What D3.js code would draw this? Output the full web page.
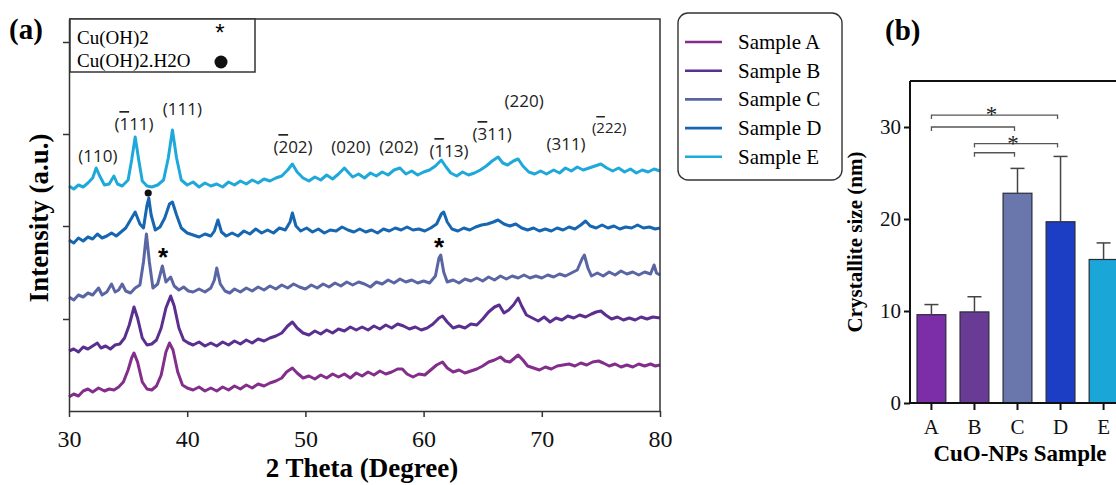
<!DOCTYPE html>
<html>
<head>
<meta charset="utf-8">
<script src="https://cdnjs.cloudflare.com/ajax/libs/d3/7.8.5/d3.min.js"></script>
<style>
body { margin: 0; background: #fff; }
svg { display: block; font-family: "Liberation Serif", "Times New Roman", serif; }
.hkl { font-family: "Open Sans", "Liberation Sans", sans-serif; font-size: 17px; fill: #222; }
.ov { text-decoration: overline; }
</style>
</head>
<body>
<script>
// ---- panel (a): XRD patterns, [2theta, intensity a.u.] as stacked in the figure
const sampleA = [[30,14],[30.4,17],[30.8,15],[31.2,20],[31.6,22],[32,19],[32.5,23],[33,20],[33.4,22],[33.8,21],[34.2,24],[34.6,29],[35,41],[35.3,53],[35.5,58],[35.8,49],[36.2,29],[36.6,22],[37,21],[37.4,25],[37.8,36],[38.2,59],[38.5,68],[38.8,61],[39.2,39],[39.6,26],[40,23],[40.5,21],[41,24],[41.5,20],[42,23],[42.5,20],[43,24],[43.5,21],[44,25],[44.5,22],[45,26],[45.5,23],[46,27],[46.5,25],[47,28],[47.5,30],[48,33],[48.4,39],[48.9,43],[49.3,38],[49.8,33],[50.3,35],[50.8,32],[51.3,36],[51.8,33],[52.3,37],[52.8,34],[53.3,37],[53.8,33],[54.3,38],[54.8,35],[55.3,39],[55.8,36],[56.3,40],[56.8,37],[57.3,39],[57.8,42],[58.2,42],[58.6,37],[59.1,34],[59.6,37],[60.1,36],[60.6,41],[61.1,46],[61.6,49],[62,43],[62.5,39],[63,41],[63.5,38],[64,40],[64.5,42],[65,45],[65.5,49],[66,51],[66.5,54],[66.9,50],[67.3,49],[67.7,53],[68,56],[68.4,51],[68.8,45],[69.3,43],[69.8,41],[70.3,44],[70.8,42],[71.3,45],[71.8,46],[72.3,47],[72.8,45],[73.3,48],[73.8,46],[74.3,49],[74.8,50],[75.2,48],[75.7,45],[76.2,47],[76.7,44],[77.2,46],[77.7,44],[78.2,47],[78.7,45],[79.2,47],[79.6,45],[80,46]];
const sampleB = [[30,60],[30.4,62],[30.8,59],[31.2,64],[31.6,62],[32,65],[32.4,68],[32.7,63],[33.1,65],[33.5,62],[33.9,66],[34.3,67],[34.7,73],[35.1,86],[35.5,104],[35.8,93],[36.2,73],[36.6,66],[37,67],[37.4,71],[37.8,83],[38.2,103],[38.6,115],[38.9,105],[39.3,83],[39.7,71],[40.1,68],[40.5,66],[41,69],[41.5,65],[42,68],[42.5,65],[43,69],[43.5,66],[44,70],[44.5,67],[45,71],[45.5,68],[46,72],[46.5,70],[47,73],[47.5,75],[48,78],[48.5,85],[48.9,89],[49.3,83],[49.8,78],[50.3,76],[50.8,80],[51.3,77],[51.8,81],[52.3,78],[52.8,82],[53.3,80],[53.8,84],[54.3,81],[54.8,84],[55.3,81],[55.8,85],[56.3,82],[56.8,86],[57.3,83],[57.8,87],[58.3,85],[58.8,82],[59.3,84],[59.8,81],[60.3,83],[60.8,87],[61.3,93],[61.6,95],[62,89],[62.5,83],[63,85],[63.5,83],[64,87],[64.5,86],[65,92],[65.5,99],[66,104],[66.4,106],[66.8,98],[67.2,101],[67.6,106],[68,113],[68.3,105],[68.7,96],[69.2,93],[69.7,90],[70.2,94],[70.7,89],[71.2,93],[71.7,91],[72.2,95],[72.7,93],[73.2,96],[73.7,94],[74.2,97],[74.6,99],[75,100],[75.4,96],[75.9,92],[76.4,94],[76.9,91],[77.4,93],[77.9,91],[78.4,94],[78.9,92],[79.4,94],[80,93]];
const sampleC = [[30,114],[30.4,111],[30.8,116],[31.2,114],[31.6,118],[32,116],[32.5,123],[32.8,116],[33.2,119],[33.6,127],[33.9,119],[34.2,121],[34.5,127],[34.8,120],[35.2,118],[35.6,123],[36,126],[36.3,149],[36.55,177],[36.8,149],[37.1,123],[37.5,127],[37.9,145],[38.2,129],[38.6,134],[38.9,125],[39.3,121],[39.7,124],[40.1,120],[40.5,119],[41,122],[41.5,119],[42,123],[42.3,131],[42.5,143],[42.8,127],[43.2,120],[43.6,118],[44,122],[44.5,119],[45,123],[45.5,120],[46,124],[46.5,121],[47,125],[47.5,122],[48,126],[48.5,123],[49,127],[49.5,124],[50,122],[50.5,126],[51,123],[51.5,127],[52,124],[52.5,128],[53,125],[53.5,129],[54,126],[54.5,129],[55,127],[55.5,124],[56,129],[56.5,127],[57,131],[57.5,128],[58,132],[58.5,129],[59,131],[59.5,128],[60,130],[60.5,128],[61,135],[61.3,153],[61.45,156],[61.7,139],[62,129],[62.5,131],[63,128],[63.5,132],[64,130],[64.5,133],[65,130],[65.5,134],[66,131],[66.5,135],[67,132],[67.5,135],[68,133],[68.5,136],[69,133],[69.5,135],[70,133],[70.5,136],[71,134],[71.5,137],[72,135],[72.5,138],[73,141],[73.4,152],[73.6,156],[73.9,143],[74.2,135],[74.7,138],[75.2,135],[75.7,139],[76.2,136],[76.7,140],[77.2,137],[77.7,139],[78.2,136],[78.7,139],[79.2,137],[79.5,146],[79.7,138],[80,136]];
const sampleD = [[30,171],[30.4,168],[30.8,173],[31.2,170],[31.6,174],[32,172],[32.4,177],[32.8,173],[33.2,175],[33.6,178],[34,175],[34.4,179],[34.8,183],[35.2,191],[35.6,199],[36,187],[36.3,183],[36.6,206],[36.75,213],[36.95,196],[37.3,181],[37.7,184],[38.1,193],[38.5,207],[38.75,209],[39.1,196],[39.5,183],[40,178],[40.5,176],[41,174],[41.5,177],[42,175],[42.3,180],[42.6,191],[42.9,179],[43.3,175],[43.8,178],[44.3,175],[44.8,180],[45.3,177],[45.8,182],[46.3,178],[46.8,181],[47.3,178],[47.8,183],[48.3,181],[48.7,189],[48.9,198],[49.2,185],[49.6,180],[50.1,183],[50.6,179],[51.1,182],[51.6,178],[52.1,181],[52.6,180],[53.1,184],[53.6,181],[54.1,179],[54.6,182],[55.1,179],[55.6,181],[56.1,178],[56.6,182],[57.1,180],[57.6,183],[58.1,181],[58.6,184],[59.1,181],[59.6,182],[60.1,180],[60.6,183],[61.1,187],[61.5,197],[61.7,199],[62,189],[62.4,182],[62.9,180],[63.4,183],[63.9,181],[64.4,184],[64.9,186],[65.4,187],[65.9,189],[66.3,191],[66.8,187],[67.3,185],[67.8,187],[68.3,183],[68.8,181],[69.3,183],[69.8,180],[70.3,182],[70.8,180],[71.3,183],[71.8,181],[72.3,184],[72.8,182],[73.3,186],[73.7,190],[74.1,185],[74.6,183],[75.1,186],[75.6,183],[76.1,185],[76.6,182],[77.1,184],[77.6,183],[78.1,186],[78.6,183],[79.1,184],[79.6,182],[80,183]];
const sampleE = [[30,225],[30.4,222],[30.8,226],[31.2,224],[31.6,228],[32,233],[32.3,243],[32.6,235],[33,226],[33.4,227],[33.8,235],[34.1,227],[34.5,225],[35,231],[35.3,251],[35.6,274],[35.9,251],[36.2,230],[36.6,225],[37,224],[37.5,226],[38,231],[38.4,253],[38.75,281],[39.1,253],[39.5,231],[40,226],[40.5,229],[41,224],[41.5,228],[42,225],[42.5,227],[43,224],[43.5,229],[44,226],[44.5,230],[45,227],[45.5,231],[46,228],[46.5,232],[47,230],[47.5,233],[48,235],[48.5,241],[48.9,247],[49.3,239],[49.8,233],[50.3,230],[50.8,234],[51.3,231],[51.8,236],[52.3,232],[52.8,237],[53.3,243],[53.6,239],[54,234],[54.5,237],[55,233],[55.5,238],[56,235],[56.5,239],[57,236],[57.5,241],[58,243],[58.5,237],[59,240],[59.5,236],[60,239],[60.5,241],[61,245],[61.5,251],[61.9,244],[62.3,238],[62.8,235],[63.3,239],[63.8,236],[64.3,238],[64.8,241],[65.3,245],[65.8,250],[66.3,254],[66.7,248],[67.1,246],[67.6,250],[68,252],[68.4,245],[68.9,239],[69.4,237],[69.9,240],[70.4,237],[71,241],[71.5,238],[72,243],[72.5,240],[73,244],[73.5,241],[74,243],[74.5,245],[75,247],[75.5,243],[76,240],[76.5,243],[77,239],[77.5,242],[78,238],[78.5,241],[79,239],[79.5,242],[80,240]];

const sampleNames = ["Sample A", "Sample B", "Sample C", "Sample D", "Sample E"];
const twoThetaTicks = [30, 40, 50, 60, 70, 80];
const intensityTicks = [92, 185, 277, 369];

// reflection labels: text parts (1 = overlined digit), 2theta, label level
const peakLabels = [
  {parts: [["(110)", 0]], tt: 32.45, level: 249},
  {parts: [["(", 0], ["1", 1], ["11)", 0]], tt: 35.5, level: 281},
  {parts: [["(111)", 0]], tt: 39.6, level: 296},
  {parts: [["(", 0], ["2", 1], ["02)", 0]], tt: 48.95, level: 258},
  {parts: [["(020)", 0]], tt: 53.85, level: 258},
  {parts: [["(202)", 0]], tt: 57.9, level: 258},
  {parts: [["(", 0], ["1", 1], ["13)", 0]], tt: 62.15, level: 254},
  {parts: [["(", 0], ["3", 1], ["11)", 0]], tt: 65.8, level: 271},
  {parts: [["(220)", 0]], tt: 68.5, level: 304},
  {parts: [["(311)", 0]], tt: 72.05, level: 261},
  {parts: [["(", 0], ["2", 1], ["22)", 0]], tt: 75.7, level: 278, small: true}
];
// secondary phase marks: star = Cu(OH)2, dot = Cu(OH)2.H2O
const phaseMarks = [
  {kind: "dot", tt: 36.7, level: 218},
  {kind: "star", tt: 37.95, level: 157},
  {kind: "star", tt: 61.3, level: 167}
];

// ---- panel (b): crystallite size
const sizeCats = ["A", "B", "C", "D", "E"];
const sizeMeans = [9.6, 9.9, 22.8, 19.7, 15.6];
const sizeErr = [1.1, 1.65, 2.7, 7.1, 1.8];
const sizeTicks = [0, 10, 20, 30];
const sigBrackets = [
  {from: "A", to: "D", level: 31.3, star: true},
  {from: "A", to: "C", level: 30.0, star: false},
  {from: "B", to: "D", level: 28.2, star: true},
  {from: "B", to: "C", level: 27.2, star: false}
];

const lineColors = ["#832e8a", "#5a2f90", "#5a66a4", "#1766b1", "#1fa9da"];
const barColors = ["#7b2ea8", "#6a3b94", "#6a77ad", "#1b3ec4", "#1aa6d7"];

const w = 1116, h = 485;
const svg = d3.select("body").append("svg")
  .attr("width", w)
  .attr("height", h);

// ================= panel (a)
const x_scale = d3.scaleLinear().domain([30, 80]).range([69, 660]);
const y_scale = d3.scaleLinear().domain([0, 392]).range([411, 19]);

const line = d3.line()
  .x(d => x_scale(d[0]))
  .y(d => y_scale(d[1]));

const series = [sampleA, sampleB, sampleC, sampleD, sampleE];
svg.append("g")
  .selectAll("path")
  .data(series)
  .enter()
  .append("path")
  .attr("d", line)
  .attr("fill", "none")
  .attr("stroke", (d, i) => lineColors[i])
  .attr("stroke-width", 3)
  .attr("stroke-linejoin", "round");

// frame
svg.append("path")
  .attr("d", `M${x_scale(30)},${y_scale(392)}H${x_scale(80)}V${y_scale(0)}`)
  .attr("fill", "none")
  .attr("stroke", "#333")
  .attr("stroke-width", 1.5);

const x_axis = d3.axisBottom(x_scale)
  .tickValues(twoThetaTicks)
  .tickFormat(d3.format("d"))
  .tickSize(6)
  .tickSizeOuter(0)
  .tickPadding(13);
const gx = svg.append("g")
  .attr("transform", `translate(0, ${y_scale(0)})`)
  .call(x_axis)
  .attr("font-family", null)
  .attr("font-size", null);
gx.selectAll("text").style("font-size", "24px").attr("fill", "#111");
gx.selectAll("line, path").attr("stroke", "#333").attr("stroke-width", 1.5);

const y_axis = d3.axisLeft(y_scale)
  .tickValues(intensityTicks)
  .tickFormat("")
  .tickSize(6)
  .tickSizeOuter(0);
const gy = svg.append("g")
  .attr("transform", `translate(${x_scale(30)}, 0)`)
  .call(y_axis);
gy.selectAll("line, path").attr("stroke", "#333").attr("stroke-width", 1.5);

svg.append("text")
  .attr("x", 362)
  .attr("y", 477)
  .attr("text-anchor", "middle")
  .style("font-size", "27px")
  .style("font-weight", "bold")
  .text("2 Theta (Degree)");

svg.append("text")
  .attr("transform", "translate(48, 218) rotate(-90)")
  .attr("text-anchor", "middle")
  .style("font-size", "27px")
  .style("font-weight", "bold")
  .text("Intensity (a.u.)");

svg.append("text")
  .attr("x", 9)
  .attr("y", 39)
  .style("font-size", "29px")
  .style("font-weight", "bold")
  .text("(a)");

// reflection labels
const hkl = svg.append("g").selectAll("text")
  .data(peakLabels)
  .enter()
  .append("text")
  .attr("class", "hkl")
  .attr("x", d => x_scale(d.tt))
  .attr("y", d => y_scale(d.level))
  .attr("text-anchor", "middle")
  .style("font-size", d => d.small ? "15px" : null);
hkl.selectAll("tspan")
  .data(d => d.parts)
  .enter()
  .append("tspan")
  .attr("class", d => d[1] ? "ov" : null)
  .text(d => d[0]);

// phase marks
svg.append("g").selectAll("circle")
  .data(phaseMarks.filter(d => d.kind === "dot"))
  .enter()
  .append("circle")
  .attr("cx", d => x_scale(d.tt))
  .attr("cy", d => y_scale(d.level))
  .attr("r", 3.6)
  .attr("fill", "#111");
svg.append("g").selectAll("text")
  .data(phaseMarks.filter(d => d.kind === "star"))
  .enter()
  .append("text")
  .attr("x", d => x_scale(d.tt))
  .attr("y", d => y_scale(d.level) + 12)
  .attr("text-anchor", "middle")
  .style("font-family", "'Liberation Sans', sans-serif")
  .style("font-size", "26px")
  .style("font-weight", "bold")
  .text("*");

// phase legend (top-left box)
svg.append("rect")
  .attr("x", 70)
  .attr("y", 19)
  .attr("width", 185)
  .attr("height", 53)
  .attr("fill", "#fff")
  .attr("stroke", "#333")
  .attr("stroke-width", 1.5);
svg.append("text").attr("x", 77).attr("y", 44).style("font-size", "19px").text("Cu(OH)2");
svg.append("text").attr("x", 77).attr("y", 67).style("font-size", "19px").text("Cu(OH)2.H2O");
svg.append("text").attr("x", 220).attr("y", 41).attr("text-anchor", "middle")
  .style("font-family", "'Liberation Sans', sans-serif")
  .style("font-size", "24px").text("*");
svg.append("circle").attr("cx", 221).attr("cy", 62).attr("r", 6.5).attr("fill", "#111");

// sample legend
svg.append("rect")
  .attr("x", 678)
  .attr("y", 13)
  .attr("width", 164)
  .attr("height", 167)
  .attr("rx", 10)
  .attr("fill", "#fff")
  .attr("stroke", "#333")
  .attr("stroke-width", 1.4);
const legend = svg.append("g").selectAll("g")
  .data(sampleNames)
  .enter()
  .append("g")
  .attr("transform", (d, i) => `translate(0, ${42 + i * 28.7})`);
legend.append("line")
  .attr("x1", 685).attr("x2", 722)
  .attr("stroke", (d, i) => lineColors[i])
  .attr("stroke-width", 2.6);
legend.append("text")
  .attr("x", 738)
  .attr("y", 7)
  .style("font-size", "21px")
  .text(d => d);

// ================= panel (b)
const bx = d3.scaleBand()
  .domain(sizeCats)
  .range([910, 1125])
  .paddingInner(0.33)
  .paddingOuter(0.163);
const by = d3.scaleLinear().domain([0, 35]).range([403, 81]);

svg.append("g").selectAll("rect")
  .data(sizeMeans)
  .enter()
  .append("rect")
  .attr("x", (d, i) => bx(sizeCats[i]))
  .attr("y", d => by(d))
  .attr("width", bx.bandwidth())
  .attr("height", d => by(0) - by(d))
  .attr("fill", (d, i) => barColors[i])
  .attr("stroke", "#2a2a3a")
  .attr("stroke-width", 1.2);

// error bars (upper only)
const errG = svg.append("g").attr("stroke", "#444").attr("stroke-width", 1.5);
sizeMeans.forEach((m, i) => {
  const cx = bx(sizeCats[i]) + bx.bandwidth() / 2;
  errG.append("line").attr("x1", cx).attr("x2", cx).attr("y1", by(m)).attr("y2", by(m + sizeErr[i]));
  errG.append("line").attr("x1", cx - 7).attr("x2", cx + 7).attr("y1", by(m + sizeErr[i])).attr("y2", by(m + sizeErr[i]));
});

// significance brackets
sigBrackets.forEach(b => {
  const x1 = bx(b.from) + bx.bandwidth() / 2;
  const x2 = bx(b.to) + bx.bandwidth() / 2 - 3;
  const y = by(b.level);
  svg.append("path")
    .attr("d", `M${x1},${y + 4}V${y}H${x2}V${y + 4}`)
    .attr("fill", "none")
    .attr("stroke", "#555")
    .attr("stroke-width", 1.3);
  if (b.star) {
    svg.append("text")
      .attr("x", (x1 + x2) / 2 - 3)
      .attr("y", y + 7)
      .attr("text-anchor", "middle")
      .style("font-size", "23px")
      .style("fill", "#222")
      .text("*");
  }
});

const bxAxis = d3.axisBottom(bx).tickSize(7).tickSizeOuter(0).tickPadding(9);
const gbx = svg.append("g")
  .attr("transform", `translate(0, ${by(0)})`)
  .call(bxAxis)
  .attr("font-family", null)
  .attr("font-size", null);
gbx.select(".domain").attr("d", `M910,0H1116`);
gbx.selectAll("text").style("font-size", "21px").attr("fill", "#111");
gbx.selectAll("line, path").attr("stroke", "#111").attr("stroke-width", 2);

const byAxis = d3.axisLeft(by).tickValues(sizeTicks).tickSize(6).tickSizeOuter(0).tickPadding(3);
const gby = svg.append("g")
  .attr("transform", "translate(910, 0)")
  .call(byAxis)
  .attr("font-family", null)
  .attr("font-size", null);
gby.select(".domain").attr("d", `M0,${by(35)}V${by(0)}`);
gby.selectAll("text").style("font-size", "21px").attr("fill", "#111");
gby.selectAll("line, path").attr("stroke", "#111").attr("stroke-width", 2);

svg.append("line")
  .attr("x1", 910).attr("x2", 1116)
  .attr("y1", by(35)).attr("y2", by(35))
  .attr("stroke", "#111").attr("stroke-width", 2);

svg.append("text")
  .attr("x", 1020)
  .attr("y", 461)
  .attr("text-anchor", "middle")
  .style("font-size", "23px")
  .style("font-weight", "bold")
  .text("CuO-NPs Sample");

svg.append("text")
  .attr("transform", "translate(862, 242) rotate(-90)")
  .attr("text-anchor", "middle")
  .style("font-size", "21px")
  .style("font-weight", "bold")
  .text("Crystallite size (nm)");

svg.append("text")
  .attr("x", 885)
  .attr("y", 40)
  .style("font-size", "29px")
  .style("font-weight", "bold")
  .text("(b)");
</script>
</body>
</html>
